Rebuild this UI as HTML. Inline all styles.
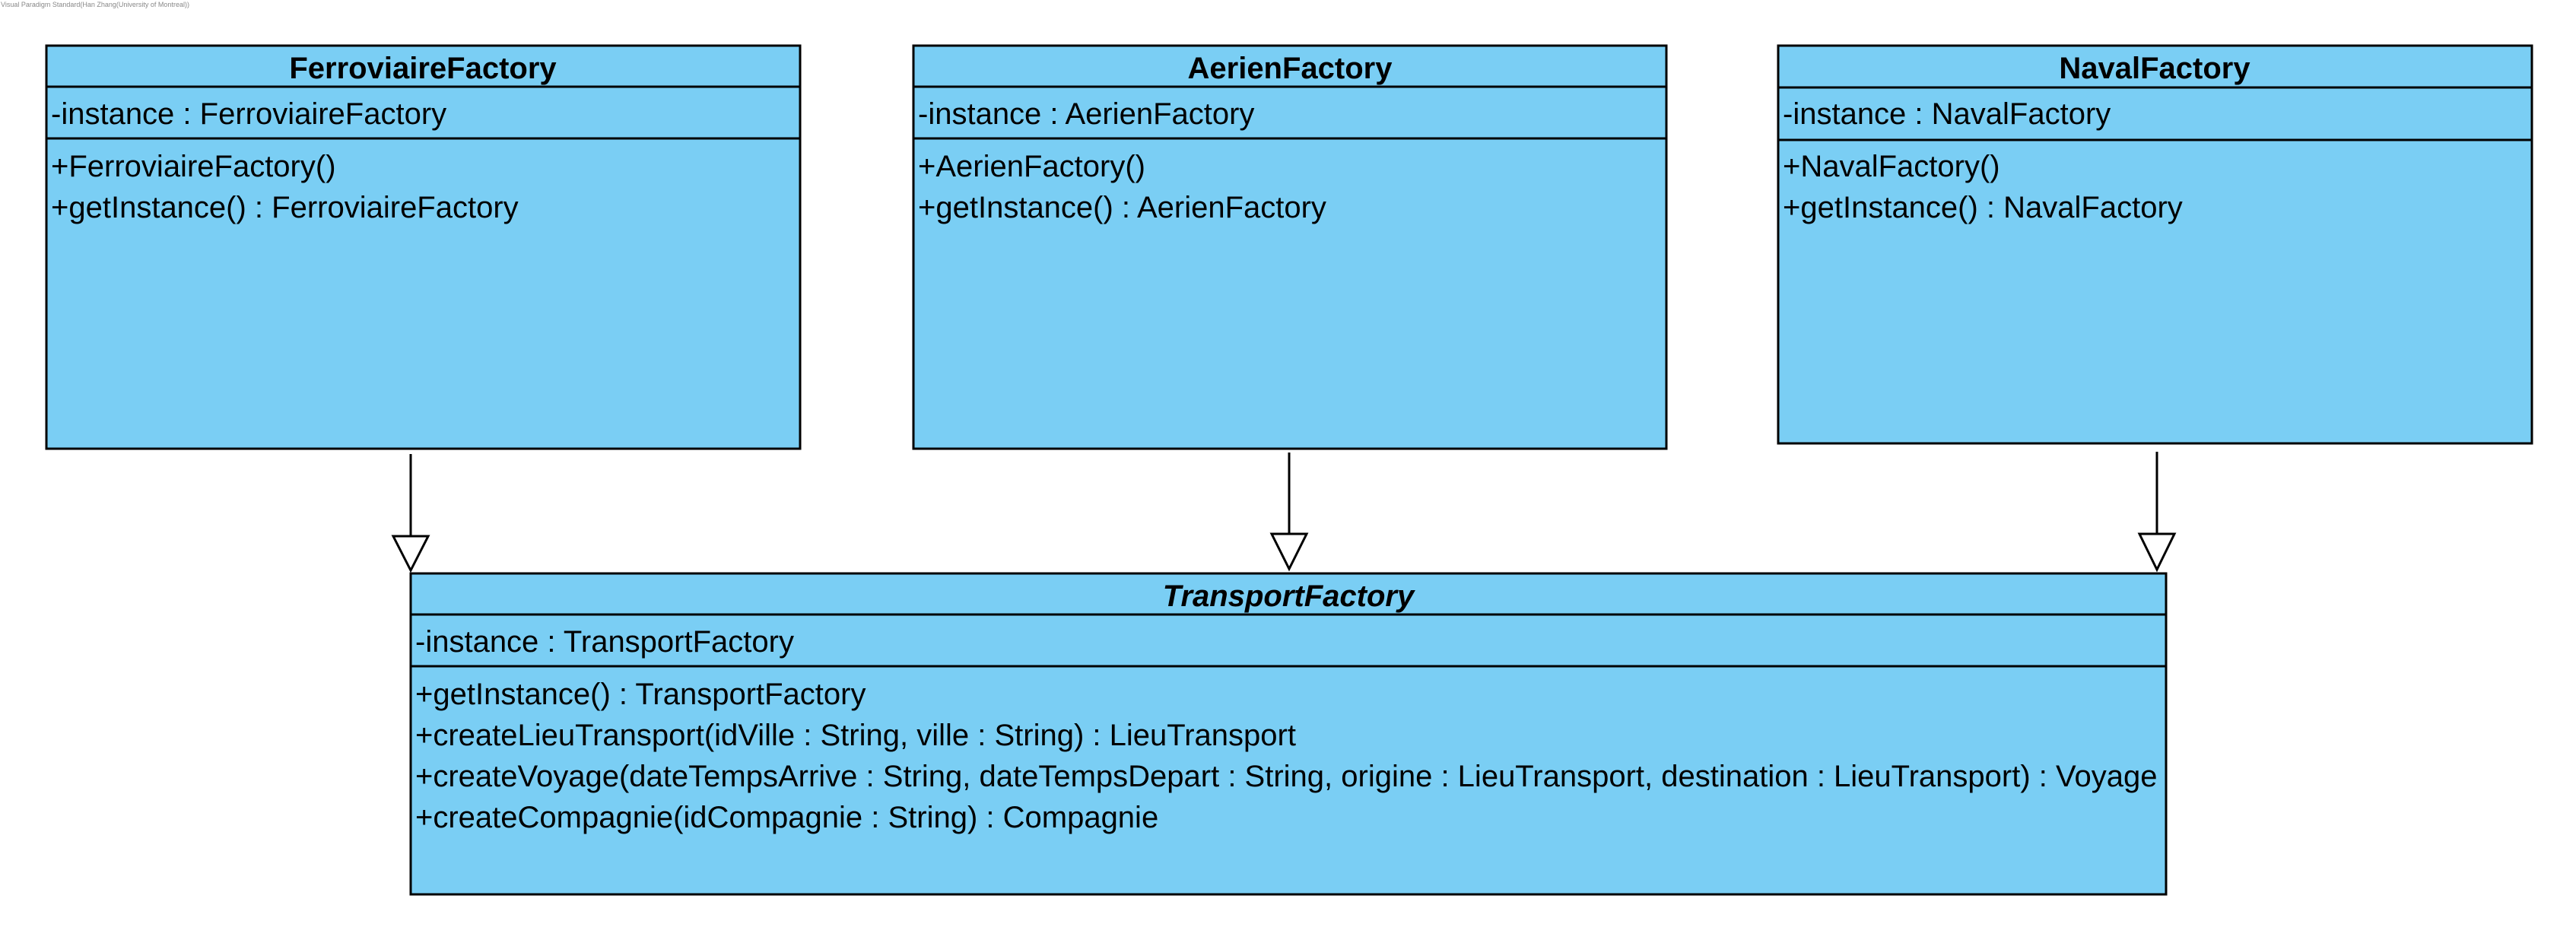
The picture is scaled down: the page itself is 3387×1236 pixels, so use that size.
<!DOCTYPE html>
<html><head><meta charset="utf-8"><style>
html,body{margin:0;padding:0;background:#fff;}
svg{display:block;}
text{font-family:"Liberation Sans",Arial,sans-serif;font-size:40px;fill:#000;}
.t{font-weight:bold;text-anchor:middle;}
.w{font-size:9px;fill:#888;}
</style></head><body>
<svg width="3387" height="1236" viewBox="0 0 3387 1236" xmlns="http://www.w3.org/2000/svg">
<text class="w" x="1" y="9">Visual Paradigm Standard(Han Zhang(University of Montreal))</text>
<g stroke="#000" stroke-width="3" fill="#7ACEF4">
<rect x="61" y="60" width="991" height="530"/>
<line x1="61" y1="114" x2="1052" y2="114"/>
<line x1="61" y1="182" x2="1052" y2="182"/>
<rect x="1201" y="60" width="990" height="530"/>
<line x1="1201" y1="114" x2="2191" y2="114"/>
<line x1="1201" y1="182" x2="2191" y2="182"/>
<rect x="2338" y="60" width="991" height="523"/>
<line x1="2338" y1="115" x2="3329" y2="115"/>
<line x1="2338" y1="184" x2="3329" y2="184"/>
<rect x="540" y="754" width="2308" height="422"/>
<line x1="540" y1="808" x2="2848" y2="808"/>
<line x1="540" y1="876" x2="2848" y2="876"/>
</g>
<g stroke="#000" stroke-width="3" fill="#fff">
<line x1="540" y1="597" x2="540" y2="705"/>
<polygon points="517,705 563,705 540,750"/>
<line x1="1695" y1="595" x2="1695" y2="702"/>
<polygon points="1672,702 1718,702 1695,748"/>
<line x1="2836" y1="594" x2="2836" y2="702"/>
<polygon points="2813,702 2859,702 2836,749"/>
</g>
<text class="t" x="556" y="103">FerroviaireFactory</text>
<text x="67" y="163">-instance : FerroviaireFactory</text>
<text x="67" y="232">+FerroviaireFactory()</text>
<text x="67" y="286">+getInstance() : FerroviaireFactory</text>
<text class="t" x="1696" y="103">AerienFactory</text>
<text x="1207" y="163">-instance : AerienFactory</text>
<text x="1207" y="232">+AerienFactory()</text>
<text x="1207" y="286">+getInstance() : AerienFactory</text>
<text class="t" x="2833" y="103">NavalFactory</text>
<text x="2344" y="163">-instance : NavalFactory</text>
<text x="2344" y="232">+NavalFactory()</text>
<text x="2344" y="286">+getInstance() : NavalFactory</text>
<text class="t" x="1694" y="797" font-style="italic">TransportFactory</text>
<text x="546" y="857">-instance : TransportFactory</text>
<text x="546" y="926">+getInstance() : TransportFactory</text>
<text x="546" y="980">+createLieuTransport(idVille : String, ville : String) : LieuTransport</text>
<text x="546" y="1034">+createVoyage(dateTempsArrive : String, dateTempsDepart : String, origine : LieuTransport, destination : LieuTransport) : Voyage</text>
<text x="546" y="1088">+createCompagnie(idCompagnie : String) : Compagnie</text>
</svg>
</body></html>
